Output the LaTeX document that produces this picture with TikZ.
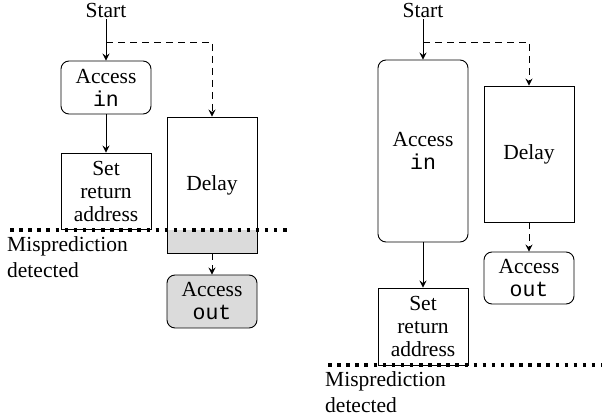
\documentclass[tikz,border=0pt]{standalone}
\usepackage{fontspec}
\setmainfont{Liberation Serif}
\setmonofont{Liberation Mono}
\usetikzlibrary{arrows.meta}
\definecolor{greyfill}{gray}{0.86}
\begin{document}
\begin{tikzpicture}[x=1pt,y=-1pt,
  every node/.style={font=\fontsize{21.5}{23}\selectfont},
  box/.style={draw, line width=0.9pt, minimum width=90pt, text width=86pt, align=center, inner sep=0pt},
  rbox/.style={box, rounded corners=8pt},
  arr/.style={line width=0.9pt, -{Stealth[length=7pt,width=7pt,inset=2.5pt]}},
  darr/.style={arr, dash pattern=on 7pt off 5pt},
  dotline/.style={line width=3.5pt, dash pattern=on 3.5pt off 5.6pt},
  lbl/.style={align=left, anchor=north west, inner sep=0pt, font=\fontsize{21.5}{26}\selectfont}]
\useasboundingbox (0,0) rectangle (602,419);
% ---------- left panel ----------
\node[inner sep=2pt] (startL) at (106,10) {Start};
\node[rbox, minimum height=53pt] (inL) at (106,87.5) {Access\\\texttt{in}};
\node[box, minimum height=76pt] (setL) at (106,191) {Set\\return\\address};
\fill[greyfill] (167,230) rectangle (257,253);
\node[box, minimum height=136pt] (delayL) at (212,185) {Delay};
\node[rbox, minimum height=53pt, fill=greyfill] (outL) at (212,301.5) {Access\\\texttt{out}};
\coordinate (brL) at (106,42);
\draw[arr] (startL) -- (inL);
\draw[darr] (brL) -| (delayL);
\draw[arr] (inL) -- (setL);
\draw[darr] (delayL) -- (outL);
\draw[dotline] (10,230) -- (290,230);
\node[lbl] (misL) at (7,236) {Misprediction\\detected};
% ---------- right panel ----------
\node[inner sep=2pt] (startR) at (423,10) {Start};
\node[rbox, minimum height=182pt] (inR) at (423,151) {Access\\\texttt{in}};
\node[box, minimum height=136pt] (delayR) at (529,154) {Delay};
\node[rbox, minimum height=52pt] (outR) at (529,278) {Access\\\texttt{out}};
\node[box, minimum height=77pt] (setR) at (423,326.5) {Set\\return\\address};
\coordinate (brR) at (423,42);
\draw[arr] (startR) -- (inR);
\draw[darr] (brR) -| (delayR);
\draw[darr] (delayR) -- (outR);
\draw[arr] (inR) -- (setR);
\draw[dotline] (328,365) -- (602,365);
\node[lbl] (misR) at (325,371) {Misprediction\\detected};
\end{tikzpicture}
\end{document}
